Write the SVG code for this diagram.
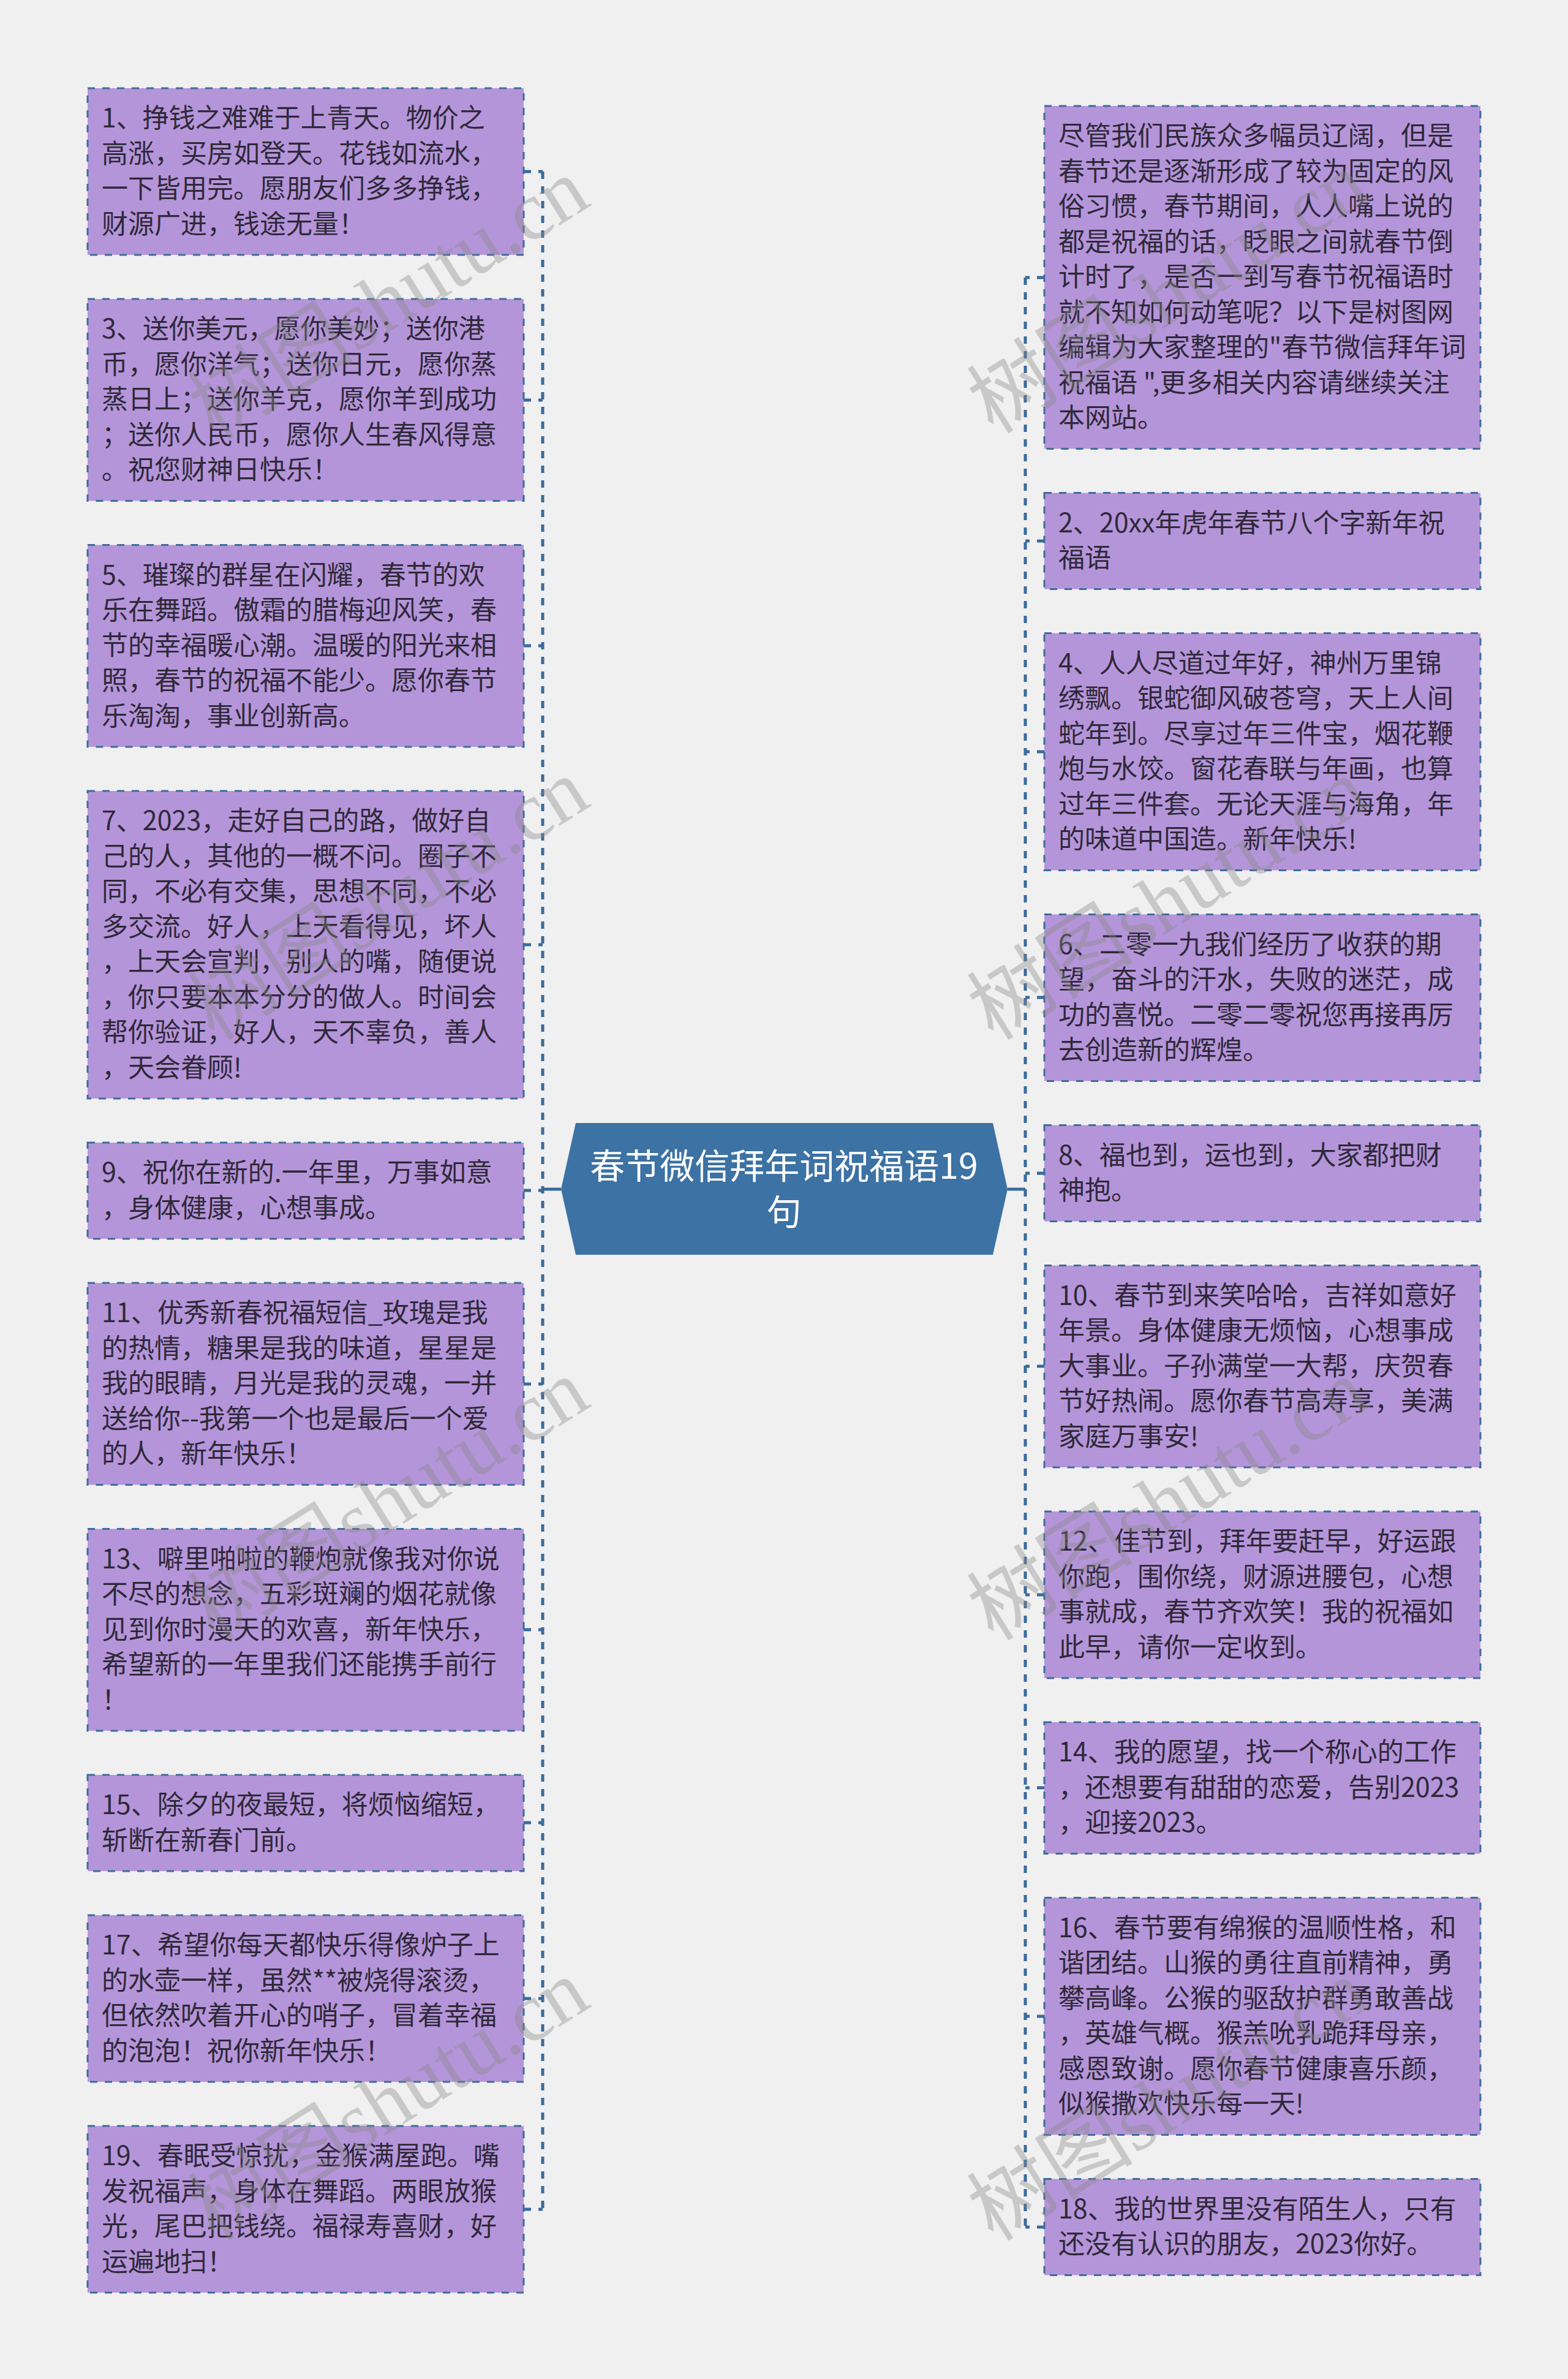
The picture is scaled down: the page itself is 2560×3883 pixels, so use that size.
<svg xmlns="http://www.w3.org/2000/svg" width="2560" height="3883" viewBox="0 0 2560 3883">
<defs>
<style>
.bg{fill:#f0f0f0}
.box{fill:#b595d9;stroke:#3d6c9c;stroke-width:3;stroke-dasharray:12 12}
.t{font-family:"Noto Sans CJK SC","Microsoft YaHei",sans-serif;font-size:43px;fill:#2e2939}
.root{fill:#3c72a4}
.rt{font-family:"Noto Sans CJK SC","Microsoft YaHei",sans-serif;font-size:57px;fill:#ffffff;text-anchor:middle}
.dash{fill:none;stroke:#3a6a9b;stroke-width:5;stroke-dasharray:12 12}
.solid{fill:none;stroke:#3a6a9b;stroke-width:5}
.wm{font-family:"Liberation Serif","Noto Sans CJK SC",serif;font-size:136px;fill:#888888;opacity:0.38}
</style>
</defs>
<rect class="bg" x="0" y="0" width="2560" height="3883"/>

<g id="connectors">
<path class="solid" d="M886,1941 H916"/>
<path class="solid" d="M1674,1941 H1645"/>
<path class="dash" d="M886,280 V3606"/>
<path class="dash" d="M1674,453 V3635"/>
<path class="dash" d="M855,280 H886"/>
<path class="dash" d="M855,653 H886"/>
<path class="dash" d="M855,1054 H886"/>
<path class="dash" d="M855,1542 H886"/>
<path class="dash" d="M855,1943 H886"/>
<path class="dash" d="M855,2259 H886"/>
<path class="dash" d="M855,2660 H886"/>
<path class="dash" d="M855,2975 H886"/>
<path class="dash" d="M855,3262 H886"/>
<path class="dash" d="M855,3606 H886"/>
<path class="dash" d="M1705,453 H1674"/>
<path class="dash" d="M1705,883 H1674"/>
<path class="dash" d="M1705,1227 H1674"/>
<path class="dash" d="M1705,1628 H1674"/>
<path class="dash" d="M1705,1915 H1674"/>
<path class="dash" d="M1705,2230 H1674"/>
<path class="dash" d="M1705,2603 H1674"/>
<path class="dash" d="M1705,2918 H1674"/>
<path class="dash" d="M1705,3291 H1674"/>
<path class="dash" d="M1705,3635 H1674"/>
</g>

<g id="root">
<polygon class="root" points="916,1941 940,1833 1621,1833 1645,1941 1621,2048 940,2048"/>
<text class="rt" x="1280" y="1924">春节微信拜年词祝福语19</text>
<text class="rt" x="1280" y="1999">句</text>
</g>

<g id="n1">
<rect class="box" x="143" y="144" width="712" height="272"/>
<text class="t" x="166" y="208"><tspan x="166">1、挣钱之难难于上青天。物价之</tspan><tspan x="166" dy="57.5">高涨，买房如登天。花钱如流水，</tspan><tspan x="166" dy="57.5">一下皆用完。愿朋友们多多挣钱，</tspan><tspan x="166" dy="57.5">财源广进，钱途无量！</tspan></text>
</g>
<g id="n3">
<rect class="box" x="143" y="488" width="712" height="329.5"/>
<text class="t" x="166" y="552"><tspan x="166">3、送你美元，愿你美妙；送你港</tspan><tspan x="166" dy="57.5">币，愿你洋气；送你日元，愿你蒸</tspan><tspan x="166" dy="57.5">蒸日上；送你羊克，愿你羊到成功</tspan><tspan x="166" dy="57.5">；送你人民币，愿你人生春风得意</tspan><tspan x="166" dy="57.5">。祝您财神日快乐！</tspan></text>
</g>
<g id="n5">
<rect class="box" x="143" y="889.5" width="712" height="329.5"/>
<text class="t" x="166" y="953.5"><tspan x="166">5、璀璨的群星在闪耀，春节的欢</tspan><tspan x="166" dy="57.5">乐在舞蹈。傲霜的腊梅迎风笑，春</tspan><tspan x="166" dy="57.5">节的幸福暖心潮。温暖的阳光来相</tspan><tspan x="166" dy="57.5">照，春节的祝福不能少。愿你春节</tspan><tspan x="166" dy="57.5">乐淘淘，事业创新高。</tspan></text>
</g>
<g id="n7">
<rect class="box" x="143" y="1291" width="712" height="502"/>
<text class="t" x="166" y="1355"><tspan x="166">7、2023，走好自己的路，做好自</tspan><tspan x="166" dy="57.5">己的人，其他的一概不问。圈子不</tspan><tspan x="166" dy="57.5">同，不必有交集，思想不同，不必</tspan><tspan x="166" dy="57.5">多交流。好人，上天看得见，坏人</tspan><tspan x="166" dy="57.5">，上天会宣判，别人的嘴，随便说</tspan><tspan x="166" dy="57.5">，你只要本本分分的做人。时间会</tspan><tspan x="166" dy="57.5">帮你验证，好人，天不辜负，善人</tspan><tspan x="166" dy="57.5">，天会眷顾!</tspan></text>
</g>
<g id="n9">
<rect class="box" x="143" y="1865" width="712" height="157"/>
<text class="t" x="166" y="1929"><tspan x="166">9、祝你在新的.一年里，万事如意</tspan><tspan x="166" dy="57.5">，身体健康，心想事成。</tspan></text>
</g>
<g id="n11">
<rect class="box" x="143" y="2094" width="712" height="329.5"/>
<text class="t" x="166" y="2158"><tspan x="166">11、优秀新春祝福短信_玫瑰是我</tspan><tspan x="166" dy="57.5">的热情，糖果是我的味道，星星是</tspan><tspan x="166" dy="57.5">我的眼睛，月光是我的灵魂，一并</tspan><tspan x="166" dy="57.5">送给你--我第一个也是最后一个爱</tspan><tspan x="166" dy="57.5">的人，新年快乐！</tspan></text>
</g>
<g id="n13">
<rect class="box" x="143" y="2495.5" width="712" height="329.5"/>
<text class="t" x="166" y="2559.5"><tspan x="166">13、噼里啪啦的鞭炮就像我对你说</tspan><tspan x="166" dy="57.5">不尽的想念，五彩斑斓的烟花就像</tspan><tspan x="166" dy="57.5">见到你时漫天的欢喜，新年快乐，</tspan><tspan x="166" dy="57.5">希望新的一年里我们还能携手前行</tspan><tspan x="166" dy="57.5">！</tspan></text>
</g>
<g id="n15">
<rect class="box" x="143" y="2897" width="712" height="157"/>
<text class="t" x="166" y="2961"><tspan x="166">15、除夕的夜最短，将烦恼缩短，</tspan><tspan x="166" dy="57.5">斩断在新春门前。</tspan></text>
</g>
<g id="n17">
<rect class="box" x="143" y="3126" width="712" height="272"/>
<text class="t" x="166" y="3190"><tspan x="166">17、希望你每天都快乐得像炉子上</tspan><tspan x="166" dy="57.5">的水壶一样，虽然**被烧得滚烫，</tspan><tspan x="166" dy="57.5">但依然吹着开心的哨子，冒着幸福</tspan><tspan x="166" dy="57.5">的泡泡！祝你新年快乐！</tspan></text>
</g>
<g id="n19">
<rect class="box" x="143" y="3470" width="712" height="272"/>
<text class="t" x="166" y="3534"><tspan x="166">19、春眠受惊扰，金猴满屋跑。嘴</tspan><tspan x="166" dy="57.5">发祝福声，身体在舞蹈。两眼放猴</tspan><tspan x="166" dy="57.5">光，尾巴把钱绕。福禄寿喜财，好</tspan><tspan x="166" dy="57.5">运遍地扫！</tspan></text>
</g>

<g id="r1">
<rect class="box" x="1705" y="173" width="712" height="559.5"/>
<text class="t" x="1728" y="237"><tspan x="1728">尽管我们民族众多幅员辽阔，但是</tspan><tspan x="1728" dy="57.5">春节还是逐渐形成了较为固定的风</tspan><tspan x="1728" dy="57.5">俗习惯，春节期间，人人嘴上说的</tspan><tspan x="1728" dy="57.5">都是祝福的话，眨眼之间就春节倒</tspan><tspan x="1728" dy="57.5">计时了，是否一到写春节祝福语时</tspan><tspan x="1728" dy="57.5">就不知如何动笔呢？以下是树图网</tspan><tspan x="1728" dy="57.5">编辑为大家整理的"春节微信拜年词</tspan><tspan x="1728" dy="57.5">祝福语 ",更多相关内容请继续关注</tspan><tspan x="1728" dy="57.5">本网站。</tspan></text>
</g>
<g id="r2">
<rect class="box" x="1705" y="804.5" width="712" height="157"/>
<text class="t" x="1728" y="868.5"><tspan x="1728">2、20xx年虎年春节八个字新年祝</tspan><tspan x="1728" dy="57.5">福语</tspan></text>
</g>
<g id="r4">
<rect class="box" x="1705" y="1033.5" width="712" height="387"/>
<text class="t" x="1728" y="1097.5"><tspan x="1728">4、人人尽道过年好，神州万里锦</tspan><tspan x="1728" dy="57.5">绣飘。银蛇御风破苍穹，天上人间</tspan><tspan x="1728" dy="57.5">蛇年到。尽享过年三件宝，烟花鞭</tspan><tspan x="1728" dy="57.5">炮与水饺。窗花春联与年画，也算</tspan><tspan x="1728" dy="57.5">过年三件套。无论天涯与海角，年</tspan><tspan x="1728" dy="57.5">的味道中国造。新年快乐!</tspan></text>
</g>
<g id="r6">
<rect class="box" x="1705" y="1492.5" width="712" height="272"/>
<text class="t" x="1728" y="1556.5"><tspan x="1728">6、二零一九我们经历了收获的期</tspan><tspan x="1728" dy="57.5">望，奋斗的汗水，失败的迷茫，成</tspan><tspan x="1728" dy="57.5">功的喜悦。二零二零祝您再接再厉</tspan><tspan x="1728" dy="57.5">去创造新的辉煌。</tspan></text>
</g>
<g id="r8">
<rect class="box" x="1705" y="1836.5" width="712" height="157"/>
<text class="t" x="1728" y="1900.5"><tspan x="1728">8、福也到，运也到，大家都把财</tspan><tspan x="1728" dy="57.5">神抱。</tspan></text>
</g>
<g id="r10">
<rect class="box" x="1705" y="2065.5" width="712" height="329.5"/>
<text class="t" x="1728" y="2129.5"><tspan x="1728">10、春节到来笑哈哈，吉祥如意好</tspan><tspan x="1728" dy="57.5">年景。身体健康无烦恼，心想事成</tspan><tspan x="1728" dy="57.5">大事业。子孙满堂一大帮，庆贺春</tspan><tspan x="1728" dy="57.5">节好热闹。愿你春节高寿享，美满</tspan><tspan x="1728" dy="57.5">家庭万事安!</tspan></text>
</g>
<g id="r12">
<rect class="box" x="1705" y="2467" width="712" height="272"/>
<text class="t" x="1728" y="2531"><tspan x="1728">12、佳节到，拜年要赶早，好运跟</tspan><tspan x="1728" dy="57.5">你跑，围你绕，财源进腰包，心想</tspan><tspan x="1728" dy="57.5">事就成，春节齐欢笑！我的祝福如</tspan><tspan x="1728" dy="57.5">此早，请你一定收到。</tspan></text>
</g>
<g id="r14">
<rect class="box" x="1705" y="2811" width="712" height="214.5"/>
<text class="t" x="1728" y="2875"><tspan x="1728">14、我的愿望，找一个称心的工作</tspan><tspan x="1728" dy="57.5">，还想要有甜甜的恋爱，告别2023</tspan><tspan x="1728" dy="57.5">，迎接2023。</tspan></text>
</g>
<g id="r16">
<rect class="box" x="1705" y="3097.5" width="712" height="387"/>
<text class="t" x="1728" y="3161.5"><tspan x="1728">16、春节要有绵猴的温顺性格，和</tspan><tspan x="1728" dy="57.5">谐团结。山猴的勇往直前精神，勇</tspan><tspan x="1728" dy="57.5">攀高峰。公猴的驱敌护群勇敢善战</tspan><tspan x="1728" dy="57.5">，英雄气概。猴羔吮乳跪拜母亲，</tspan><tspan x="1728" dy="57.5">感恩致谢。愿你春节健康喜乐颜，</tspan><tspan x="1728" dy="57.5">似猴撒欢快乐每一天!</tspan></text>
</g>
<g id="r18">
<rect class="box" x="1705" y="3556.5" width="712" height="157"/>
<text class="t" x="1728" y="3620.5"><tspan x="1728">18、我的世界里没有陌生人，只有</tspan><tspan x="1728" dy="57.5">还没有认识的朋友，2023你好。</tspan></text>
</g>

<g id="watermark">
<text class="wm" x="350" y="720" transform="rotate(-32 350 720)">树图shutu.cn</text>
<text class="wm" x="350" y="1700" transform="rotate(-32 350 1700)">树图shutu.cn</text>
<text class="wm" x="350" y="2680" transform="rotate(-32 350 2680)">树图shutu.cn</text>
<text class="wm" x="350" y="3660" transform="rotate(-32 350 3660)">树图shutu.cn</text>
<text class="wm" x="1622" y="710" transform="rotate(-32 1622 710)">树图shutu.cn</text>
<text class="wm" x="1622" y="1700" transform="rotate(-32 1622 1700)">树图shutu.cn</text>
<text class="wm" x="1622" y="2680" transform="rotate(-32 1622 2680)">树图shutu.cn</text>
<text class="wm" x="1622" y="3660" transform="rotate(-32 1622 3660)">树图shutu.cn</text>
</g>
</svg>
